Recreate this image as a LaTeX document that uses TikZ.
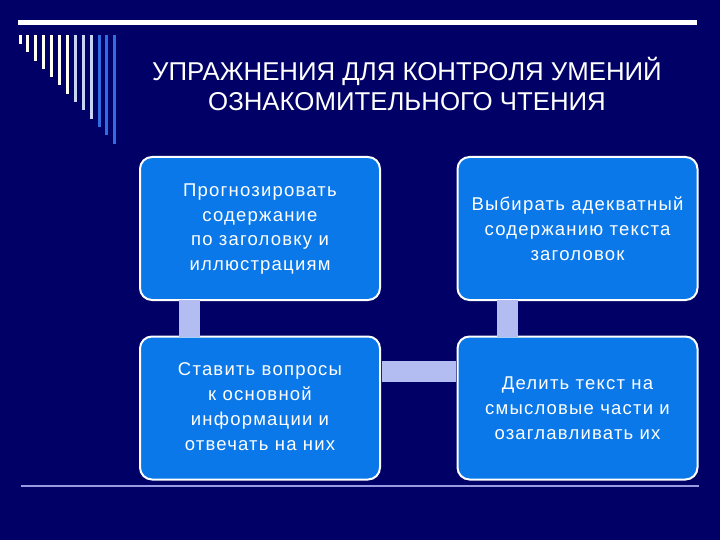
\documentclass[tikz,border=0pt]{standalone}
\usepackage{fontspec}
\setmainfont{Liberation Sans}
\newfontfamily\boxfont[LetterSpace=6.5]{Liberation Sans}
\definecolor{bgnavy}{HTML}{000066}
\definecolor{boxblue}{HTML}{0A78E8}
\definecolor{linklav}{HTML}{B3BDF2}
\definecolor{rulelav}{HTML}{9A9AE0}
\definecolor{barwhite}{HTML}{FFFFF2}
\definecolor{barlight}{HTML}{C8D4F4}
\definecolor{barblue}{HTML}{2E6EE0}
\begin{document}
\begin{tikzpicture}[x=1pt,y=-1pt,
  stepbox/.style={rectangle, rounded corners=12pt, fill=boxblue, draw=white,
    line width=2pt, minimum width=240pt, minimum height=143pt, text=white,
    inner sep=0pt, font=\boxfont\fontsize{18.5}{24.8}\selectfont, align=center},
  link/.style={linklav, line width=21pt},
  bar/.style={line width=3pt}]
\useasboundingbox (0,0) rectangle (720,540);
\fill[bgnavy] (0,0) rectangle (720,540);
% top rule
\fill[white] (18,20) rectangle (697,25);
% decorative bars
\foreach \i/\c in {0/barwhite,1/barwhite,2/barwhite,3/barwhite,4/barwhite,5/barwhite,6/barwhite,7/barlight,8/barlight,9/barlight,10/barblue,11/barblue,12/barblue}{
  \draw[bar,\c] (20+7.9*\i,35) -- (20+7.9*\i,44+8.3*\i);
}
% title
\node[text=white, font=\fontsize{25.8}{30}\selectfont, align=center] (title) at (407,83.5)
  {УПРАЖНЕНИЯ ДЛЯ КОНТРОЛЯ УМЕНИЙ\\ОЗНАКОМИТЕЛЬНОГО ЧТЕНИЯ};
% boxes
\node[stepbox] (b1) at (260,228.5) {\raisebox{8pt}{\begin{tabular}{@{}c@{}}Прогнозировать\\содержание\\по заголовку и\\иллюстрациям\end{tabular}}};
\node[stepbox] (b2) at (577.5,228.5) {Выбирать адекватный\\содержанию текста\\заголовок};
\node[stepbox] (b3) at (260,408) {\raisebox{-2pt}{\begin{tabular}{@{}c@{}}Ставить вопросы\\к основной\\информации и\\отвечать на них\end{tabular}}};
\node[stepbox] (b4) at (577.5,408) {Делить текст на\\смысловые части и\\озаглавливать их};
% connectors
\coordinate (l1) at (189,0);
\coordinate (l2) at (507,0);
\coordinate (h) at (0,371.5);
\draw[link] (b1.south -| l1) ++(0,1pt) -- ([yshift=-1pt]b3.north -| l1);
\draw[link] (b2.south -| l2) ++(0,1pt) -- ([yshift=-1pt]b4.north -| l2);
\draw[link] ([xshift=1pt]b3.east |- h) -- ([xshift=-1pt]b4.west |- h);
% bottom rule
\draw[rulelav, line width=2pt] (21,486) -- (699,486);
\end{tikzpicture}
\end{document}
